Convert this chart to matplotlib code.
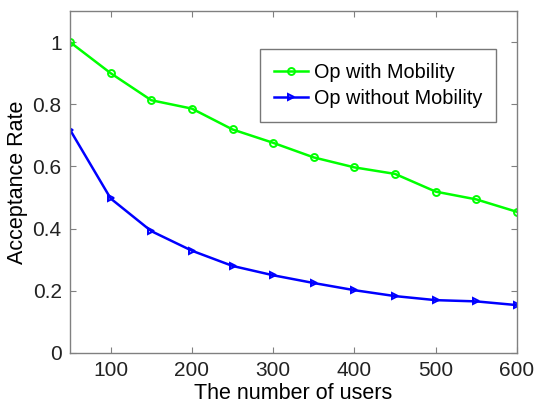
import matplotlib
matplotlib.use("Agg")
import matplotlib.pyplot as plt

users = [50, 100, 150, 200, 250, 300, 350, 400, 450, 500, 550, 600]
with_mobility = [1.0, 0.9, 0.813, 0.786, 0.719, 0.676, 0.629, 0.597, 0.576, 0.519, 0.494, 0.454]
without_mobility = [0.718, 0.497, 0.392, 0.329, 0.280, 0.250, 0.225, 0.202, 0.183, 0.170, 0.166, 0.154]
x_ticks = [100, 200, 300, 400, 500, 600]
y_ticks = [0, 0.2, 0.4, 0.6, 0.8, 1]
y_tick_labels = ["0", "0.2", "0.4", "0.6", "0.8", "1"]

plt.rcParams['font.family'] = ['Liberation Sans', 'DejaVu Sans']

fig = plt.figure(figsize=(5.34, 4.12), dpi=100)
ax = fig.add_axes([70/534, 1 - 353/412, (517-70)/534, (353-11)/412])

ax.plot(users, with_mobility, color='#00ff00', lw=1.8, marker='o', ms=5,
        mfc='none', mew=1.4, label='Op with Mobility')
ax.plot(users, without_mobility, color='#0000ff', lw=1.8, marker='>', ms=5,
        mfc='none', mew=1.4, label='Op without Mobility')

ax.set_xlim(50, 600)
ax.set_ylim(0, 1.1)
ax.set_xticks(x_ticks)
ax.set_yticks(y_ticks)
ax.set_yticklabels(y_tick_labels)
ax.tick_params(direction='in', top=True, right=True, labelsize=15, color='#808080',
               length=4, pad=6, labelcolor='#222222')
for s in ax.spines.values():
    s.set_color('#808080')
    s.set_linewidth(1.0)

ax.set_xlabel('The number of users', fontsize=15.5, labelpad=2)
ax.set_ylabel('Acceptance Rate', fontsize=15.5, labelpad=3)

leg = ax.legend(loc='upper left', bbox_to_anchor=((260-70)/447, (353-49)/342),
                fontsize=14.3, frameon=True, fancybox=False, borderpad=0.7,
                handlelength=1.7, handletextpad=0.3, labelspacing=0.35,
                borderaxespad=0)
leg.get_frame().set_edgecolor('#555555')
leg.get_frame().set_linewidth(1.0)

fig.savefig('out.png', dpi=100)
